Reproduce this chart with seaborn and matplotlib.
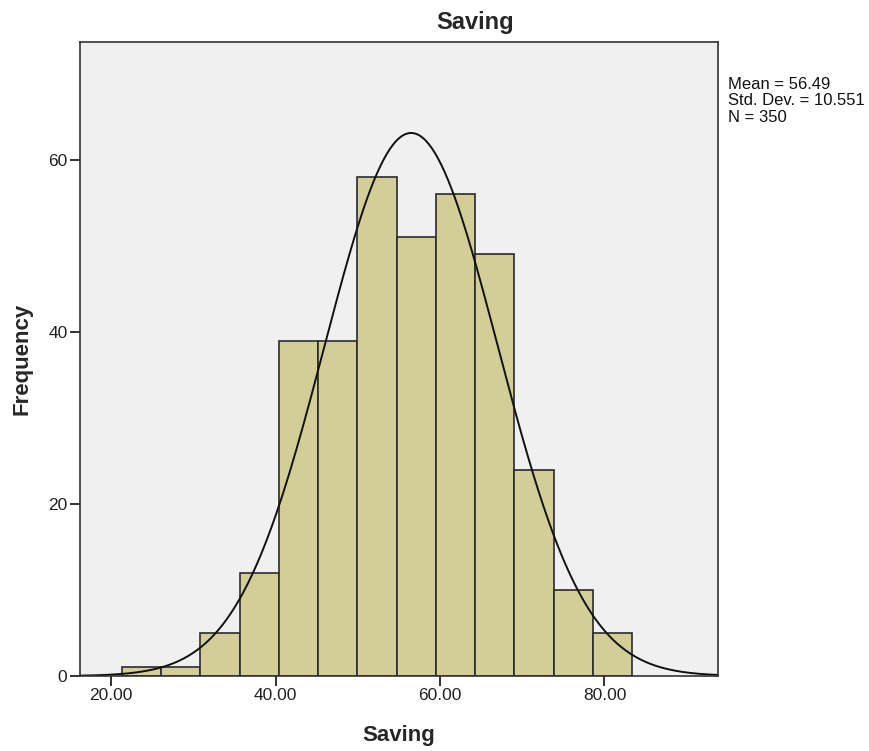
import numpy as np
import pandas as pd
import matplotlib
matplotlib.use("Agg")
import matplotlib.pyplot as plt
import seaborn as sns

# Histogram of Saving: bin counts and fitted normal parameters
counts = [1, 1, 5, 12, 39, 39, 58, 51, 56, 49, 24, 10, 5]
bin_start = 21.34
bin_width = 4.77
mean_val = 56.49
std_val = 10.551
n_obs = 350
x_ticks = [20, 40, 60, 80]
y_ticks = [0, 20, 40, 60]

edges = [bin_start + bin_width * i for i in range(len(counts) + 1)]
centers = [(a + b) / 2 for a, b in zip(edges[:-1], edges[1:])]
df = pd.DataFrame({"Saving": centers, "count": counts})

sns.set_style("white")
plt.rcParams["font.family"] = ["Liberation Sans", "DejaVu Sans"]

fig = plt.figure(figsize=(8.69, 7.51), dpi=100)
ax = fig.add_axes([80 / 869, 75 / 751, 638 / 869, 634 / 751])
ax.set_facecolor("#f0f0f0")

sns.histplot(data=df, x="Saving", weights="count", bins=edges, ax=ax,
             color="#d3ce97", edgecolor="#2b2b2b", linewidth=1.2, alpha=1.0)

# Normal curve scaled to frequency
xs = np.linspace(16.2, 93.8, 400)
pdf = np.exp(-0.5 * ((xs - mean_val) / std_val) ** 2) / (std_val * np.sqrt(2 * np.pi))
sns.lineplot(x=xs, y=pdf * n_obs * bin_width, ax=ax, color="#111111", linewidth=1.4)

ax.set_xlim(16.23, 93.8)
ax.set_ylim(0, 73.7)
ax.set_xticks(x_ticks)
ax.set_xticklabels([f"{v:.2f}" for v in x_ticks], fontsize=12.5, color="#222222")
ax.set_yticks(y_ticks)
ax.set_yticklabels([str(v) for v in y_ticks], fontsize=12.5, color="#222222")
ax.tick_params(axis="both", direction="out", length=7, width=1.3, color="#222222",
               bottom=True, left=True, pad=2)
for s in ax.spines.values():
    s.set_color("#333333")
    s.set_linewidth(1.2)

ax.set_xlabel("Saving", fontsize=16, fontweight="bold", va="center")
ax.xaxis.set_label_coords(0.5, -59 / 634)
ax.set_ylabel("Frequency", fontsize=16, fontweight="bold", va="center")
ax.yaxis.set_label_coords(-58 / 638, 0.5)

fig.text(475 / 869, 1 - 22 / 751, "Saving", fontsize=17, fontweight="bold",
         ha="center", va="center")
fig.text(728 / 869, 1 - 77 / 751,
         f"Mean = {mean_val:.2f}\nStd. Dev. = {std_val:.3f}\nN = {n_obs}",
         fontsize=12, ha="left", va="top", linespacing=1.12, color="#111111")

fig.savefig("out.png", dpi=100)
